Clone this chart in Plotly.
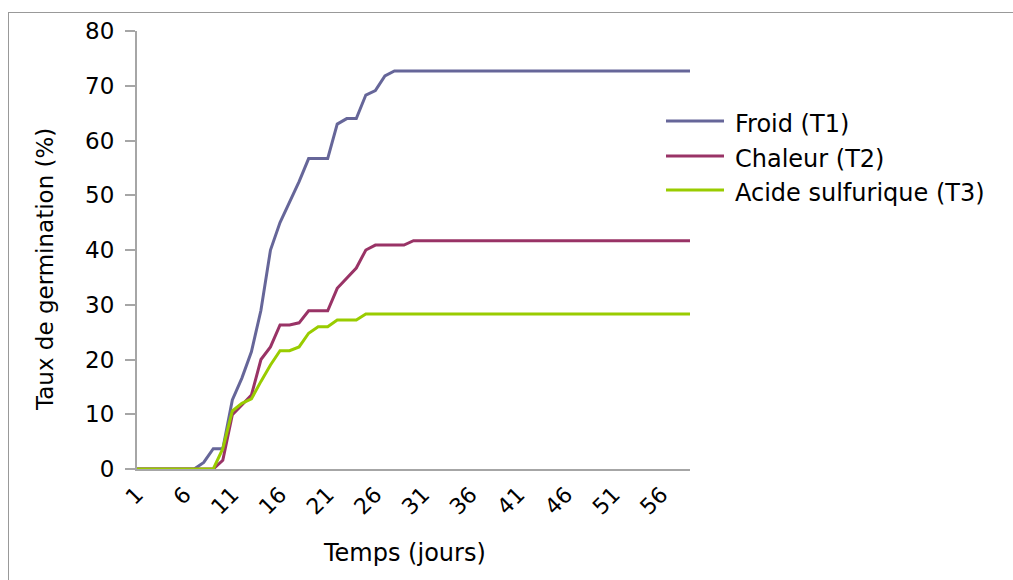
import plotly.graph_objects as go

days = [1, 2, 3, 4, 5, 6, 7, 8, 9, 10, 11, 12, 13, 14, 15, 16, 17, 18, 19, 20,
        21, 22, 23, 24, 25, 26, 27, 28, 29, 30, 31, 32, 33, 34, 35, 36, 37, 38, 39, 40,
        41, 42, 43, 44, 45, 46, 47, 48, 49, 50, 51, 52, 53, 54, 55, 56, 57, 58, 59]

froid_t1 = [0, 0, 0, 0, 0, 0, 0, 1.2, 3.7, 3.7, 12.6, 16.6, 21.4, 29.0, 40.0, 45.0, 48.8, 52.5, 56.7, 56.7,
            56.7, 63.0, 64.0, 64.0, 68.3, 69.1, 71.8, 72.7, 72.7, 72.7, 72.7, 72.7, 72.7, 72.7, 72.7, 72.7, 72.7, 72.7, 72.7, 72.7,
            72.7, 72.7, 72.7, 72.7, 72.7, 72.7, 72.7, 72.7, 72.7, 72.7, 72.7, 72.7, 72.7, 72.7, 72.7, 72.7, 72.7, 72.7, 72.7]

chaleur_t2 = [0, 0, 0, 0, 0, 0, 0, 0, 0, 1.6, 9.9, 11.7, 13.5, 20.0, 22.3, 26.3, 26.3, 26.7, 28.9, 28.9,
              28.9, 33.0, 34.8, 36.7, 40.0, 40.9, 40.9, 40.9, 40.9, 41.7, 41.7, 41.7, 41.7, 41.7, 41.7, 41.7, 41.7, 41.7, 41.7, 41.7,
              41.7, 41.7, 41.7, 41.7, 41.7, 41.7, 41.7, 41.7, 41.7, 41.7, 41.7, 41.7, 41.7, 41.7, 41.7, 41.7, 41.7, 41.7, 41.7]

acide_t3 = [0, 0, 0, 0, 0, 0, 0, 0, 0, 3.7, 10.6, 12.0, 12.8, 16.0, 19.0, 21.6, 21.6, 22.3, 24.8, 26.0,
            26.0, 27.2, 27.2, 27.2, 28.3, 28.3, 28.3, 28.3, 28.3, 28.3, 28.3, 28.3, 28.3, 28.3, 28.3, 28.3, 28.3, 28.3, 28.3, 28.3,
            28.3, 28.3, 28.3, 28.3, 28.3, 28.3, 28.3, 28.3, 28.3, 28.3, 28.3, 28.3, 28.3, 28.3, 28.3, 28.3, 28.3, 28.3, 28.3]

series_names = ["Froid (T1)", "Chaleur (T2)", "Acide sulfurique (T3)"]
series_colors = ["#666699", "#993366", "#99cc00"]
x_tick_labels = ["1", "6", "11", "16", "21", "26", "31", "36", "41", "46", "51", "56"]
y_tick_labels = ["0", "10", "20", "30", "40", "50", "60", "70", "80"]

W, H = 1013, 580
L, R, T, B = 137, 690, 31, 469
FONT = "DejaVu Sans"

def px(xp):
    return (xp - L) / (R - L)

def py(yp):
    return (B - yp) / (B - T)

fig = go.Figure()
for name, vals, col in zip(series_names, [froid_t1, chaleur_t2, acide_t3], series_colors):
    fig.add_trace(go.Scatter(x=days, y=vals, mode="lines", name=name,
                             line=dict(color=col, width=3), showlegend=False))

shapes = [
    dict(type="line", xref="paper", yref="paper", x0=px(8), x1=px(1020), y0=py(12.5), y1=py(12.5),
         line=dict(color="#999999", width=1)),
    dict(type="line", xref="paper", yref="paper", x0=px(8.5), x1=px(8.5), y0=py(12), y1=py(590),
         line=dict(color="#999999", width=1)),
]
annotations = []
legend_y_lines = [121, 156, 190]
legend_y_text = [124, 159, 193]
for name, col, yl, yt in zip(series_names, series_colors, legend_y_lines, legend_y_text):
    shapes.append(dict(type="line", xref="paper", yref="paper", x0=px(666), x1=px(724),
                       y0=py(yl), y1=py(yl), line=dict(color=col, width=3)))
    annotations.append(dict(xref="paper", yref="paper", x=px(733), y=py(yt), text=name,
                            showarrow=False, xanchor="left", yanchor="middle",
                            font=dict(family=FONT, size=24, color="#000000")))

annotations.append(dict(xref="paper", yref="paper", x=px(404), y=py(553), text="Temps (jours)",
                        showarrow=False, xanchor="center", yanchor="middle",
                        font=dict(family=FONT, size=24, color="#000000")))
annotations.append(dict(xref="paper", yref="paper", x=px(45), y=py(270), text="Taux de germination (%)",
                        showarrow=False, xanchor="center", yanchor="middle", textangle=-90,
                        font=dict(family=FONT, size=23, color="#000000")))

fig.update_layout(
    width=W, height=H,
    margin=dict(l=L, r=W - R, t=T, b=H - B, pad=0),
    paper_bgcolor="white", plot_bgcolor="white",
    font=dict(family=FONT, size=20, color="#000000"),
    shapes=shapes, annotations=annotations,
    xaxis=dict(range=[days[0], days[-1]], tickmode="array",
               tickvals=[int(t) for t in x_tick_labels], ticktext=x_tick_labels,
               tickangle=-45, showgrid=False, zeroline=False, showline=True,
               linecolor="#a6a6a6", linewidth=2, ticks="", ticklabelstandoff=2,
               tickfont=dict(family=FONT, size=22, color="#000000")),
    yaxis=dict(range=[0, 80], tickmode="array",
               tickvals=[int(t) for t in y_tick_labels], ticktext=y_tick_labels,
               showgrid=False, zeroline=False, showline=True,
               linecolor="#a6a6a6", linewidth=2, ticks="outside", ticklen=10,
               tickcolor="#a6a6a6", tickwidth=1.5, ticklabelstandoff=6,
               tickfont=dict(family=FONT, size=23, color="#000000")),
)

fig.write_html("out.html")
